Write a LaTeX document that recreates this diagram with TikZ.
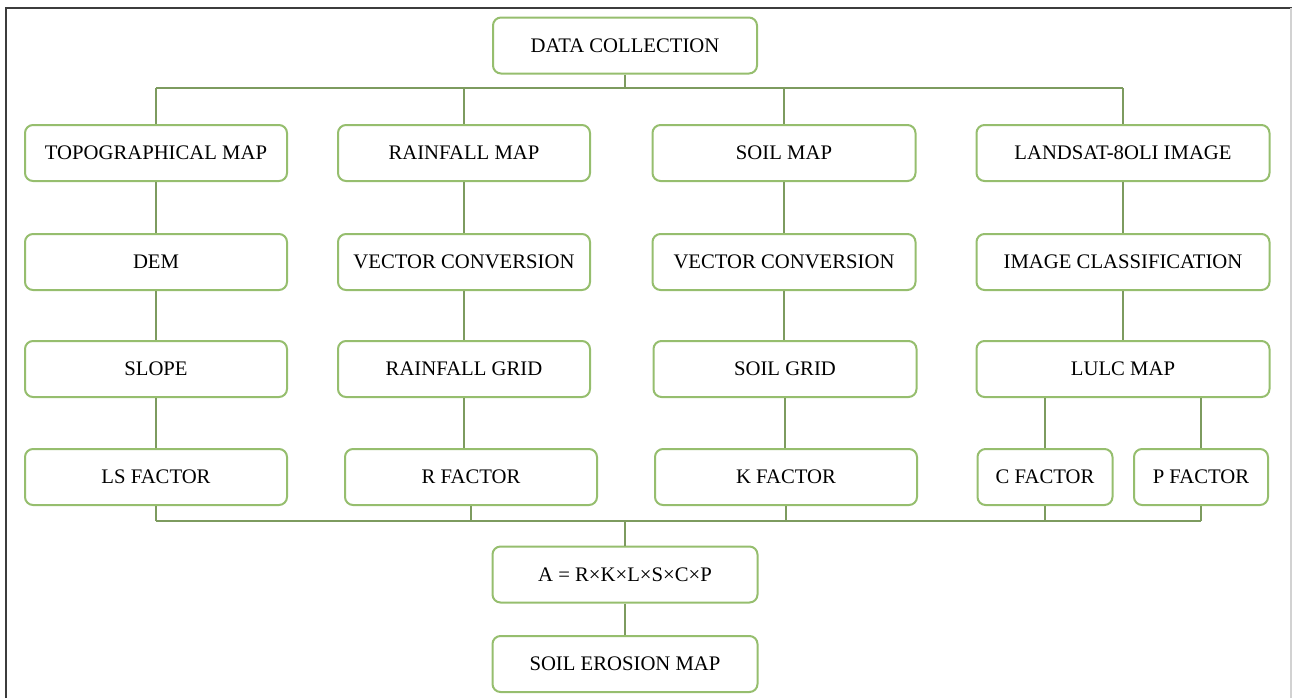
\documentclass[tikz,border=0pt]{standalone}
\usepackage{fontspec}
\setmainfont{Liberation Serif}
\usetikzlibrary{positioning}
\definecolor{BoxGreen}{RGB}{150,190,110}
\definecolor{LinkGreen}{RGB}{125,155,95}
\definecolor{FrameGray}{RGB}{60,60,60}

\begin{document}
\begin{tikzpicture}[x=0.5pt,y=-0.5pt,
    stepbox/.style={draw=BoxGreen,line width=1pt,rounded corners=4pt,fill=white,
      minimum height=28pt,inner sep=0pt,font=\fontsize{10.35}{12}\selectfont},
    link/.style={draw=LinkGreen,line width=0.9pt}]
  \useasboundingbox (0,0) rectangle (1292,698);
  \draw[FrameGray,line width=0.8pt] (6,698)--(6,8)--(1292,8);
  \draw[gray!35,line width=0.6pt] (1291,8)--(1291,698);
  % boxes
  \node[stepbox,minimum width=132pt] (dc) at (625,45.5) {DATA COLLECTION};
  \foreach \n/\x/\y/\w/\lab in {
      topo/156/153/131pt/TOPOGRAPHICAL MAP, rmap/464/153/126pt/RAINFALL MAP,
      smap/784/153/131.5pt/SOIL MAP, land/1123/153/146.5pt/LANDSAT-8OLI IMAGE,
      dem/156/262/131pt/DEM, rvec/464/262/126pt/VECTOR CONVERSION,
      svec/784/262/131.5pt/VECTOR CONVERSION, imcl/1123/262/146.5pt/IMAGE CLASSIFICATION,
      slope/156/369/131pt/SLOPE, rgrid/464/369/126pt/RAINFALL GRID,
      sgrid/785/369/131.5pt/SOIL GRID, lulc/1123/369/146.5pt/LULC MAP,
      ls/156/477/131pt/LS FACTOR, rfac/471/477/126pt/R FACTOR,
      kfac/786/477/131pt/K FACTOR, cfac/1045/477/67.5pt/C FACTOR,
      pfac/1201/477/67pt/P FACTOR,
      formula/625/574.5/132.5pt/A = R×K×L×S×C×P,
      erosion/625/664/132.5pt/SOIL EROSION MAP}
    \node[stepbox,minimum width=\w] (\n) at (\x,\y) {\lab};
  % connectors
  \coordinate (topbus) at (625,88);
  \coordinate (botbus) at (625,521);
  \draw[link] (dc.south) -- (topbus);
  \draw[link] (topo.north |- topbus) -- (land.north |- topbus);
  \foreach \n in {topo,rmap,smap,land}
    \draw[link] (\n.north |- topbus) -- (\n.north);
  \foreach \a/\b in {topo/dem,dem/slope,slope/ls,rmap/rvec,rvec/rgrid,rgrid/rfac,
      smap/svec,svec/sgrid,sgrid/kfac,land/imcl,imcl/lulc}
    \draw[link] (\a.south) -- (\a.south |- \b.north);
  \foreach \b in {cfac,pfac}
    \draw[link] (\b.north |- lulc.south) -- (\b.north);
  \foreach \n in {ls,rfac,kfac,cfac,pfac}
    \draw[link] (\n.south) -- (\n.south |- botbus);
  \draw[link] (ls.south |- botbus) -- (pfac.south |- botbus);
  \draw[link] (botbus) -- (formula.north);
  \draw[link] (formula.south) -- (erosion.north);
\end{tikzpicture}
\end{document}
